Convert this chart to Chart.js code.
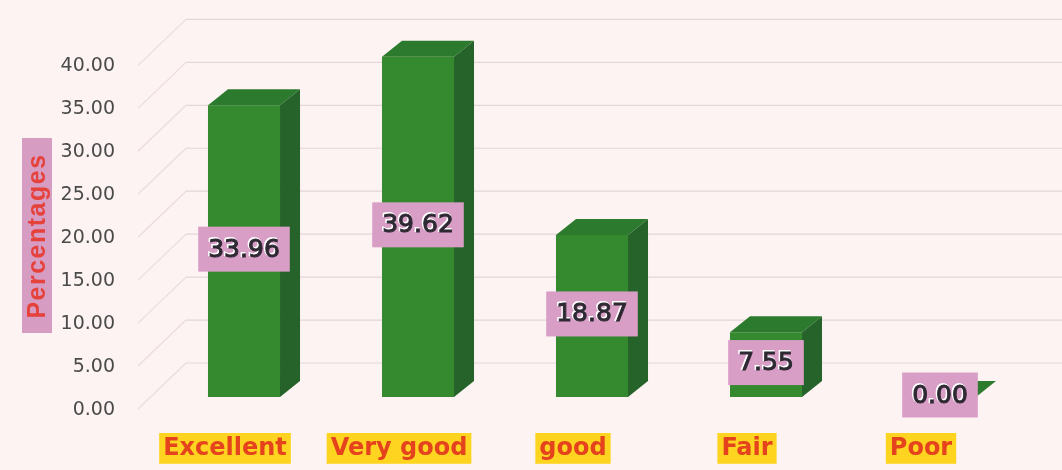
<!DOCTYPE html>
<html>
<head>
<meta charset="utf-8">
<script src="https://cdn.jsdelivr.net/npm/chart.js@4.4.1/dist/chart.umd.min.js"></script>
<style>
    html, body { margin: 0; padding: 0; background: #fdf3f3; }
    #wrap { width: 1062px; height: 470px; position: relative; }
</style>
</head>
<body>
<div id="wrap"><canvas id="barChart"></canvas></div>
<script>
// donnees
const categories = ['Excellent', 'Very good', 'good', 'Fair', 'Poor'];
const percentages = [33.96, 39.62, 18.87, 7.55, 0.00];
const yTicks = [0, 5, 10, 15, 20, 25, 30, 35, 40];
const axisTitle = 'Percentages';

// profondeur du relief
const depthX = 20, depthY = 16;

// murs du fond avec les lignes de grille en perspective
const backWall = {
    id: 'backWall',
    beforeDatasetsDraw(chart) {
        const ctx = chart.ctx;
        const yScale = chart.scales.y;
        ctx.save();
        ctx.lineWidth = 1.2;
        yTicks.forEach(v => {
            const y = yScale.getPixelForValue(v);
            // cote gauche, tres pale
            ctx.strokeStyle = 'rgba(215, 190, 196, 0.45)';
            ctx.beginPath();
            ctx.moveTo(138, y + 12);
            ctx.lineTo(186, y - 34);
            ctx.stroke();
            // fond
            ctx.strokeStyle = 'rgba(205, 188, 192, 0.5)';
            ctx.beginPath();
            ctx.moveTo(186, y - 34);
            ctx.lineTo(chart.width, y - 34);
            ctx.stroke();
        });
        ctx.restore();
    }
};

// faces du dessus et de cote + etiquettes des valeurs
const bars3d = {
    id: 'bars3d',
    afterDatasetsDraw(chart) {
        const ctx = chart.ctx;
        const meta = chart.getDatasetMeta(0);
        ctx.save();
        meta.data.forEach(bar => {
            const left = bar.x - bar.width / 2;
            const right = bar.x + bar.width / 2;
            // dessus
            ctx.fillStyle = '#2c7a2d';
            ctx.beginPath();
            ctx.moveTo(left, bar.y);
            ctx.lineTo(left + depthX, bar.y - depthY);
            ctx.lineTo(right + depthX, bar.y - depthY);
            ctx.lineTo(right, bar.y);
            ctx.closePath();
            ctx.fill();
            // cote droit
            ctx.fillStyle = '#25632a';
            ctx.beginPath();
            ctx.moveTo(right, bar.y);
            ctx.lineTo(right + depthX, bar.y - depthY);
            ctx.lineTo(right + depthX, bar.base - depthY);
            ctx.lineTo(right, bar.base);
            ctx.closePath();
            ctx.fill();
        });

        ctx.font = '25px "DejaVu Sans"';
        ctx.textAlign = 'center';
        ctx.textBaseline = 'middle';
        meta.data.forEach((bar, i) => {
            const text = percentages[i].toFixed(2);
            const w = ctx.measureText(text).width + 20;
            const h = 45;
            const cy = (bar.y + bar.base) / 2 - 2;
            ctx.fillStyle = '#d99ec6';
            ctx.fillRect(bar.x - w / 2, cy - h / 2, w, h);
            ctx.lineWidth = 2;
            ctx.strokeStyle = '#ffffff';
            ctx.strokeText(text, bar.x - 1, cy);
            ctx.lineWidth = 1;
            ctx.strokeStyle = '#2e2833';
            ctx.strokeText(text, bar.x, cy + 1);
            ctx.fillStyle = '#2e2833';
            ctx.fillText(text, bar.x, cy + 1);
        });
        ctx.restore();
    }
};

// titre de l'axe vertical dans son cadre rose
const yTitle = {
    id: 'yTitle',
    afterDraw(chart) {
        const ctx = chart.ctx;
        ctx.save();
        ctx.fillStyle = '#d79cc2';
        ctx.fillRect(22, 138, 30, 195);
        ctx.translate(38, 236);
        ctx.rotate(-Math.PI / 2);
        ctx.font = 'bold 25px "Liberation Sans"';
        ctx.letterSpacing = '1.5px';
        ctx.textAlign = 'center';
        ctx.textBaseline = 'middle';
        ctx.fillStyle = '#e6423c';
        ctx.fillText(axisTitle, 0, 0);
        ctx.restore();
    }
};

const ctx = document.getElementById('barChart').getContext('2d');
const barChart = new Chart(ctx, {
    type: 'bar',
    data: {
        labels: categories,
        datasets: [{
            data: percentages,
            backgroundColor: '#35892f',
            borderWidth: 0,
            barPercentage: 0.414,
            categoryPercentage: 1
        }]
    },
    options: {
        responsive: true,
        maintainAspectRatio: false,
        animation: false,
        layout: { padding: { top: 45, right: 35, left: 0, bottom: 0 } },
        plugins: {
            legend: { display: false },
            tooltip: { enabled: false }
        },
        scales: {
            x: {
                grid: { display: false, drawTicks: false },
                border: { display: false },
                afterFit: scale => { scale.height = 73; },
                ticks: {
                    padding: 37,
                    labelOffset: -19,
                    color: '#e4431d',
                    font: { family: 'DejaVu Sans', weight: 'bold', size: 24 },
                    showLabelBackdrop: true,
                    backdropColor: '#ffd420',
                    backdropPadding: { top: 1, bottom: 1, left: 4, right: 4 }
                }
            },
            y: {
                min: 0,
                max: 40,
                grid: { display: false, drawTicks: false },
                border: { display: false },
                afterFit: scale => { scale.width = 157; },
                afterBuildTicks: scale => {
                    scale.ticks = yTicks.map(v => ({ value: v }));
                },
                ticks: {
                    padding: 42,
                    labelOffset: 13,
                    color: '#4a4a4a',
                    font: { family: 'DejaVu Sans', size: 19 },
                    callback: value => value.toFixed(2)
                }
            }
        }
    },
    plugins: [backWall, bars3d, yTitle]
});
</script>
</body>
</html>
